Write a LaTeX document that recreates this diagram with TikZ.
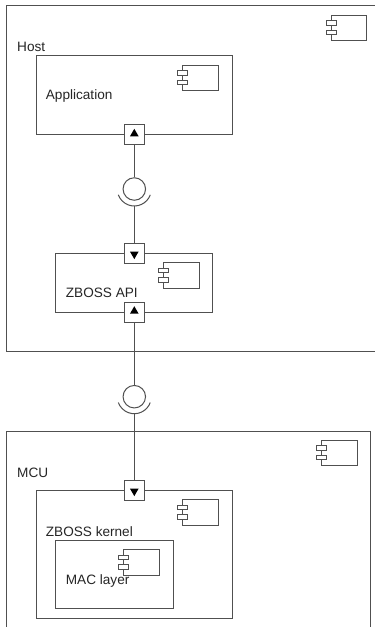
\documentclass[tikz,border=0pt]{standalone}
\usepackage{fontspec}
\setmainfont{Liberation Sans}
\usetikzlibrary{calc,shapes.geometric}
\definecolor{linec}{HTML}{505050}
\definecolor{textc}{HTML}{262626}
\tikzset{
  box/.style={draw=linec, line width=1pt, rectangle, anchor=north west, inner sep=0pt},
  lbl/.style={anchor=west, inner sep=0pt, text=textc, font=\fontsize{13.6}{15}\selectfont},
  portbox/.style={draw=linec, line width=1pt, fill=white, rectangle, minimum size=20pt, inner sep=0pt},
  tri/.style={regular polygon, regular polygon sides=3, fill=black, inner sep=0pt, minimum size=10pt},
  ball/.style={draw=linec, line width=1pt, circle, minimum size=22.5pt, inner sep=0pt},
  wire/.style={draw=linec, line width=1pt},
  comp/.pic={
    \draw[linec, line width=1pt, fill=white] (0,0) rectangle (35.7,25.7);
    \draw[linec, line width=1pt, fill=white] (-5,5.7) rectangle (5,10);
    \draw[linec, line width=1pt, fill=white] (-5,15) rectangle (5,19.7);
  }
}
\begin{document}
\begin{tikzpicture}[x=1pt, y=-1pt]
\useasboundingbox (0,0) rectangle (375,627);
\clip (0,0) rectangle (375,627);
\fill[white] (0,0) rectangle (375,627);

% Host
\node[box, minimum width=380pt, minimum height=345.4pt] (host) at (6,5.3) {};
\pic at (331,15) {comp};
\node[lbl] (hostl) at (17,46.7) {Host};

% Application
\node[box, minimum width=196.6pt, minimum height=78.7pt] (app) at (35.7,55.3) {};
\pic at (182.7,65) {comp};
\node[lbl] (appl) at (45.7,96) {Application};

% ZBOSS API
\node[box, minimum width=157.3pt, minimum height=58.4pt] (api) at (55,253.3) {};
\pic at (163.3,262.7) {comp};
\node[lbl] (apil) at (65.7,293.3) {ZBOSS API};

% MCU
\node[box, minimum width=364pt, minimum height=220pt] (mcu) at (6,430.7) {};
\pic at (321.7,440) {comp};
\node[lbl] (mcul) at (17,472.7) {MCU};

% ZBOSS kernel
\node[box, minimum width=196.6pt, minimum height=127.7pt] (kern) at (35.7,490) {};
\pic at (182.7,499.3) {comp};
\node[lbl] (kernl) at (45.7,531.7) {ZBOSS kernel};

% MAC layer
\node[box, minimum width=117.7pt, minimum height=67.7pt] (mac) at (55,540) {};
\pic at (123.3,549.3) {comp};
\node[lbl] (macl) at (65.7,580.7) {MAC layer};

% lollipops
\node[ball] (c1) at (134.3,189) {};
\node[ball] (c2) at (134.3,396.7) {};
\draw[wire] ($(c1.center)+(20:17)$) arc[start angle=20, end angle=160, radius=17];
\draw[wire] ($(c2.center)+(20:17)$) arc[start angle=20, end angle=160, radius=17];
\coordinate (s1) at ($(c1.center)+(0,17)$);
\coordinate (s2) at ($(c2.center)+(0,17)$);

% ports
\node[portbox] (p1) at (134.3,134.6) {};
\node[portbox] (p2) at (134.3,253.3) {};
\node[portbox] (p3) at (134.3,312) {};
\node[portbox] (p4) at (134.3,490.3) {};
\node[tri] at ($(p1.center)+(0,-0.8)$) {};
\node[tri, shape border rotate=180] at ($(p2.center)+(0,0.8)$) {};
\node[tri] at ($(p3.center)+(0,-0.8)$) {};
\node[tri, shape border rotate=180] at ($(p4.center)+(0,0.8)$) {};

% wires
\draw[wire] (p1.south) -- (c1.north);
\draw[wire] (s1) -- (p2.north);
\draw[wire] (p3.south) -- (c2.north);
\draw[wire] (s2) -- (p4.north);
\end{tikzpicture}
\end{document}
